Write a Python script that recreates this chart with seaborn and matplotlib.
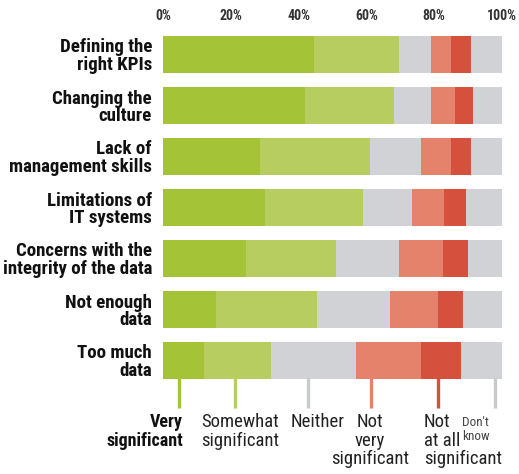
import pandas as pd
import matplotlib.pyplot as plt
import seaborn as sns
from matplotlib import font_manager as fm

# Challenges and the share of answers (in %) per response category
challenges = ["Defining the\nright KPIs", "Changing the\nculture", "Lack of\nmanagement skills",
              "Limitations of\nIT systems", "Concerns with the\nintegrity of the data",
              "Not enough\ndata", "Too much\ndata"]
very_significant = [44.5, 42.0, 28.5, 30.0, 24.5, 15.5, 12.0]
somewhat_significant = [25.0, 26.0, 32.5, 29.0, 26.5, 30.0, 20.0]
neither = [9.5, 11.0, 15.0, 14.5, 18.5, 21.5, 25.0]
not_very_significant = [6.0, 7.0, 9.0, 9.5, 13.0, 14.0, 19.0]
not_at_all_significant = [6.0, 5.5, 6.0, 6.5, 7.5, 7.5, 12.0]
dont_know = [9.0, 8.5, 9.0, 10.5, 10.0, 11.5, 12.0]

responses = ["Very significant", "Somewhat significant", "Neither", "Not very significant",
             "Not at all significant", "Don't know"]
colors = ["#A5C337", "#B7CD5F", "#D0D2D5", "#E4826C", "#D6503E", "#D0D2D5"]

df = pd.DataFrame({"challenge": challenges,
                   responses[0]: very_significant,
                   responses[1]: somewhat_significant,
                   responses[2]: neither,
                   responses[3]: not_very_significant,
                   responses[4]: not_at_all_significant,
                   responses[5]: dont_know})
cum = df[responses].cumsum(axis=1)
cum["challenge"] = df["challenge"]

# pick a condensed face if one is around
installed = {f.name for f in fm.fontManager.ttflist}
font = "Roboto"
for cand in ["Roboto Condensed", "Liberation Sans Narrow", "Archivo Narrow", "PT Sans Narrow"]:
    if cand in installed:
        font = cand
        break

sns.set_style("white")
plt.rcParams['font.family'] = [font, 'DejaVu Sans']

W, H = 519, 474
fig = plt.figure(figsize=(W / 100, H / 100), dpi=100)
ax = fig.add_axes([163 / W, 1 - 386 / H, 339 / W, 357 / H])

# stacked bars: draw the running totals, widest first
for resp, col in reversed(list(zip(responses, colors))):
    sns.barplot(data=cum, x=resp, y="challenge", orient="h", color=col, saturation=1,
                width=0.72, linewidth=0, ax=ax)

ax.set_xlim(0, 100)
ax.set_ylim(6.5, -0.5)
ax.xaxis.tick_top()
ax.set_xticks([0, 20, 40, 60, 80, 100])
ax.set_xticklabels([f"{t}%" for t in [0, 20, 40, 60, 80, 100]], fontsize=10,
                   fontweight="bold", color="#333333")
ax.tick_params(axis="x", length=0, pad=4)
ax.tick_params(axis="y", length=0, pad=8)
for lab in ax.get_yticklabels():
    lab.set_fontsize(13.6)
    lab.set_fontweight("bold")
    lab.set_linespacing(0.96)
    lab.set_color("#111111")
ax.set_xlabel("")
ax.set_ylabel("")
sns.despine(ax=ax, left=True, bottom=True, top=True, right=True)

# legend keys below the bars
key_x = [4.7, 21.2, 42.8, 61.4, 81.1, 97.9]
for kx, col in zip(key_x, colors):
    c = "#C8CACC" if col == "#D0D2D5" else col
    ax.plot([kx, kx], [6.35, 6.93], color=c, lw=2.4, clip_on=False, solid_capstyle="butt")


def px(x, y):
    return x / W, 1 - y / H


fig.text(*px(183, 413), "Very\nsignificant", ha="right", va="top", fontsize=13,
         fontweight="bold", color="#111111", linespacing=1.05)
fig.text(*px(279, 413), "Somewhat\nsignificant", ha="right", va="top", fontsize=13.5,
         color="#222222", linespacing=1.05, multialignment="right")
fig.text(*px(291, 413), "Neither", ha="left", va="top", fontsize=13.5, color="#222222")
fig.text(*px(370, 413), "Not\nvery\nsignificant", ha="center", va="top", fontsize=13.5,
         color="#222222", linespacing=1.05, multialignment="center")
fig.text(*px(424, 413), "Not\nat all\nsignificant", ha="left", va="top", fontsize=13.5,
         color="#222222", linespacing=1.05)
fig.text(*px(462, 416), "Don't\nknow", ha="left", va="top", fontsize=9.5,
         color="#444444", linespacing=1.05)

fig.savefig("out.png", dpi=100)
